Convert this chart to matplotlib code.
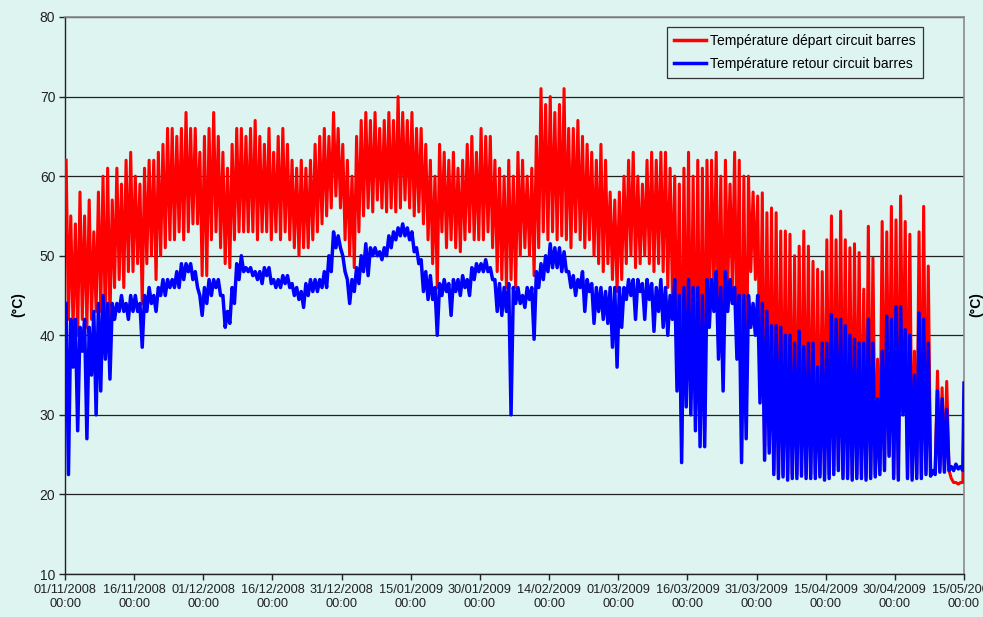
import matplotlib
matplotlib.use("Agg")
import matplotlib.pyplot as plt
import numpy as np

plt.rcParams['font.family'] = ['Liberation Sans', 'DejaVu Sans']

# ---- data (daily envelopes; day 0 = 01/11/2008) ----
red_hi = [62, 55, 54, 58, 55, 57, 53, 58, 60, 61,
          57, 61, 59, 62, 63, 60, 59, 61, 62, 62,
          63, 64, 66, 66, 65, 66, 68, 66, 66, 63,
          65, 66, 68, 65, 63, 61, 64, 66, 66, 65,
          66, 67, 65, 64, 66, 63, 65, 66, 64, 62,
          61, 62, 61, 62, 64, 65, 66, 65, 68, 66,
          64, 62, 60, 65, 67, 68, 67, 68, 66, 67,
          68, 67, 70, 68, 67, 68, 66, 66, 64, 62,
          60, 64, 63, 62, 63, 61, 62, 64, 65, 63,
          66, 65, 65, 62, 61, 60, 62, 60, 63, 62,
          60, 61, 65, 71, 69, 70, 68, 69, 71, 66,
          66, 67, 65, 64, 63, 62, 64, 62, 58, 57,
          58, 60, 62, 63, 60, 59, 62, 63, 62, 63,
          63, 61, 60, 59, 61, 63, 60, 62, 61, 62,
          62, 63, 60, 62, 59, 63, 62, 60, 60, 58,
          57.5, 57.9, 55.4, 56, 55.4, 53.1, 53.1, 52.7, 50, 51.2,
          53.1, 51.2, 49.3, 48.3, 48, 52, 55, 52, 55.6, 52,
          51, 51.5, 50.4, 45.8, 53.7, 49.7, 37, 54.3, 53, 56.2,
          54.5, 57.5, 54.3, 52.7, 38, 53, 56.2, 48.7, 23, 35.5,
          33.4, 34.2, 22, 21.5, 21.5]
red_lo = [42, 41, 40, 42, 41, 42, 43, 43, 41, 42,
          46, 47, 46, 48, 48, 49, 44, 49, 50, 47,
          50, 51, 52, 52, 53, 52, 53, 54, 54, 47.5,
          47.5, 52, 53, 51, 49, 48.5, 52, 53, 53, 53,
          53, 52, 53, 53, 52, 53, 52, 53, 52, 51,
          50, 51, 51, 52, 53, 54, 55, 56, 57.5, 56,
          52, 50, 48.5, 53, 55, 56, 55.5, 57, 56, 55.5,
          56, 55.5, 56, 57, 56, 55, 55.5, 54, 52, 49,
          46, 53, 51, 52, 51, 50.5, 52, 53, 52, 52,
          52, 53, 51, 48, 47, 46, 47, 46, 50, 51,
          50, 47.5, 51, 53, 52, 53, 52, 52.5, 52, 51,
          53, 52, 51, 52, 50, 49, 48, 49, 47, 45.5,
          47, 49, 50, 48.5, 49, 50, 49, 48, 49, 48,
          46, 45, 36, 26, 33, 32, 30, 28, 28, 42,
          45, 39, 35, 46, 46, 39, 26, 29, 48, 47,
          33, 25, 26, 23, 22.5, 22.5, 22.5, 22.5, 22.5, 23,
          22.5, 22.5, 22.5, 22.5, 22.3, 22.5, 23, 23.5, 22.5, 22.5,
          22.3, 22.5, 22.5, 22.3, 22.5, 22.5, 23, 23.5, 25, 22.5,
          22.3, 30.5, 22.5, 22.3, 22.5, 22.5, 23, 22.5, 23, 23,
          23, 23, 21.5, 21.3, 21.5]
blue_hi = [44, 42, 42, 41, 42, 41, 43, 44, 45, 44,
           44, 44, 45, 44, 45, 45, 44, 45, 46, 45,
           46, 47, 47, 47, 48, 49, 49, 49, 48, 45,
           46, 47, 47, 47, 45, 43, 46, 49, 50, 48.5,
           48.5, 48, 48, 48.5, 48.5, 47, 47, 47.5, 47.5, 46.5,
           46, 45.5, 46.5, 47, 47, 47, 48, 50, 53, 52.5,
           50, 47, 47, 48.5, 50, 51.5, 51, 51, 50.5, 51,
           52.5, 53, 53.5, 54, 53.5, 53, 51, 49.5, 48, 47.5,
           46, 46.5, 47, 46.5, 47, 47, 47.5, 47, 48.5, 49,
           49, 49.5, 48.5, 47, 46.5, 46, 46.5, 46, 46, 45,
           46, 46, 48, 49, 50, 51.5, 51, 51, 50.5, 48,
           47.5, 47, 48, 47, 46.5, 46, 46, 45.5, 46, 46,
           46, 46, 47, 47, 47, 46.5, 47, 46.5, 46, 47,
           46, 45, 47, 45, 46, 47, 46, 46, 45, 47,
           47, 48, 46, 48, 47, 46, 45, 45, 45, 44,
           45, 44, 43, 41.2, 41.2, 41, 40, 40, 39, 40.5,
           38.6, 39, 39, 36, 39, 39, 42.6, 42, 42, 41.2,
           40, 39.5, 39, 39, 42, 39, 32, 38, 42.4, 42,
           43.6, 43.6, 40.7, 40, 35, 42.8, 42, 39, 23, 33,
           32, 30.7, 23.5, 23.8, 23.5]
blue_lo = [22.5, 36, 28, 38, 27, 35, 30, 33, 37, 34.5,
           42, 43, 43, 42, 43, 43, 38.5, 43, 44, 43,
           45, 45, 46, 46, 46, 47, 48, 47, 46, 42.5,
           44, 45, 46, 45, 41, 41.5, 44, 47, 48, 48,
           47.5, 47, 46.5, 47.5, 46.5, 46, 46, 46.5, 46, 45,
           44.5, 43.5, 45, 45.5, 45.5, 46, 46, 48, 51, 51,
           48, 44, 45.5, 46.5, 48, 47.5, 50, 50, 49.5, 50,
           51, 52, 52.5, 52.5, 52, 50.5, 49, 45.5, 44.5, 44.5,
           40, 45, 45.5, 42.5, 45.5, 45, 46, 45, 47, 48,
           48, 48, 47, 43, 42.5, 43, 30, 44, 44, 43.5,
           44.5, 39.5, 46, 47, 48, 48.5, 48.5, 48, 48, 46,
           45, 46, 43, 45.5, 41.5, 43, 42, 41.5, 38.5, 36,
           41, 44.5, 45, 42, 45.5, 42, 44.5, 40.5, 43, 41,
           40, 42, 33, 24, 31, 30, 28, 26, 26, 41,
           43, 37, 33, 43, 44, 37, 24, 27, 41, 40,
           31.5, 24.3, 25.2, 22.5, 22, 22.2, 21.8, 22, 22, 22.3,
           22, 22, 22, 22.2, 21.8, 22, 22.5, 23, 22, 22,
           21.8, 22, 22, 21.8, 22, 22.2, 22.5, 23, 24.8, 22,
           21.8, 30, 22, 21.8, 22, 22, 22.5, 22.3, 22.5, 22.8,
           22.8, 23, 23, 23.2, 23]
red_end = 31
blue_end = 34

tick_days = [0, 15, 30, 45, 60, 75, 90, 105, 120, 135, 150, 165, 180, 195]
tick_labels = ["01/11/2008", "16/11/2008", "01/12/2008", "16/12/2008",
               "31/12/2008", "15/01/2009", "30/01/2009", "14/02/2009",
               "01/03/2009", "16/03/2009", "31/03/2009", "15/04/2009",
               "30/04/2009", "15/05/2009"]
y_ticks = [10, 20, 30, 40, 50, 60, 70, 80]
label_red = "Température départ circuit barres"
label_blue = "Température retour circuit barres"

# ---- build series ----
n = len(red_hi)
t, red, blue = [], [], []
for d in range(n):
    t += [d + 0.25, d + 0.75]
    red += [red_hi[d], red_lo[d]]
    blue += [blue_hi[d], blue_lo[d]]
t.append(n)
red.append(red_end)
blue.append(blue_end)

BG = "#DDF4F0"
fig = plt.figure(figsize=(9.83, 6.17), dpi=100, facecolor=BG)
ax = fig.add_axes([65/983, 1 - 574/617, (964-65)/983, (574-17)/617])
ax.set_facecolor(BG)

ax.plot(t, red, color="#FF0000", lw=2.2, label=label_red, zorder=3)
ax.plot(t, blue, color="#0000FF", lw=2.5, label=label_blue, zorder=4)

ax.set_xlim(0, 195)
ax.set_ylim(10, 80)
ax.set_yticks(y_ticks)
ax.set_xticks(tick_days)
ax.set_xticklabels([f"{s}\n00:00" for s in tick_labels], fontsize=9.2, linespacing=1.3)
ax.tick_params(axis='y', labelsize=10, length=4, width=1, pad=3, colors='#222222')
ax.tick_params(axis='x', length=4, width=1, pad=3, colors='#222222')
ax.yaxis.grid(True, color="#222222", lw=0.9)
ax.set_axisbelow(True)
for s in ['left', 'bottom']:
    ax.spines[s].set_color('#222222')
    ax.spines[s].set_linewidth(1.0)
for s in ['top', 'right']:
    ax.spines[s].set_color('#8A8A8A')
    ax.spines[s].set_linewidth(1.2)

fig.text(18/983, 1 - 305/617, "(°C)", rotation=90, fontsize=10, fontweight='bold',
         ha='center', va='center')
fig.text(969/983, 1 - 305/617, "(°C)", rotation=90, fontsize=10, fontweight='bold',
         ha='left', va='center')

leg = ax.legend(loc='upper right', bbox_to_anchor=((923-65)/899, 1 - (27-17)/557),
                borderaxespad=0, fontsize=10, frameon=True, fancybox=False,
                handlelength=2.3, handletextpad=0.3, labelspacing=0.65, borderpad=0.5)
leg.get_frame().set_edgecolor('#333333')
leg.get_frame().set_facecolor(BG)
leg.get_frame().set_alpha(1)
leg.get_frame().set_linewidth(0.9)
for line in leg.get_lines():
    line.set_linewidth(2.5)

fig.savefig("out.png", dpi=100, facecolor=BG)
